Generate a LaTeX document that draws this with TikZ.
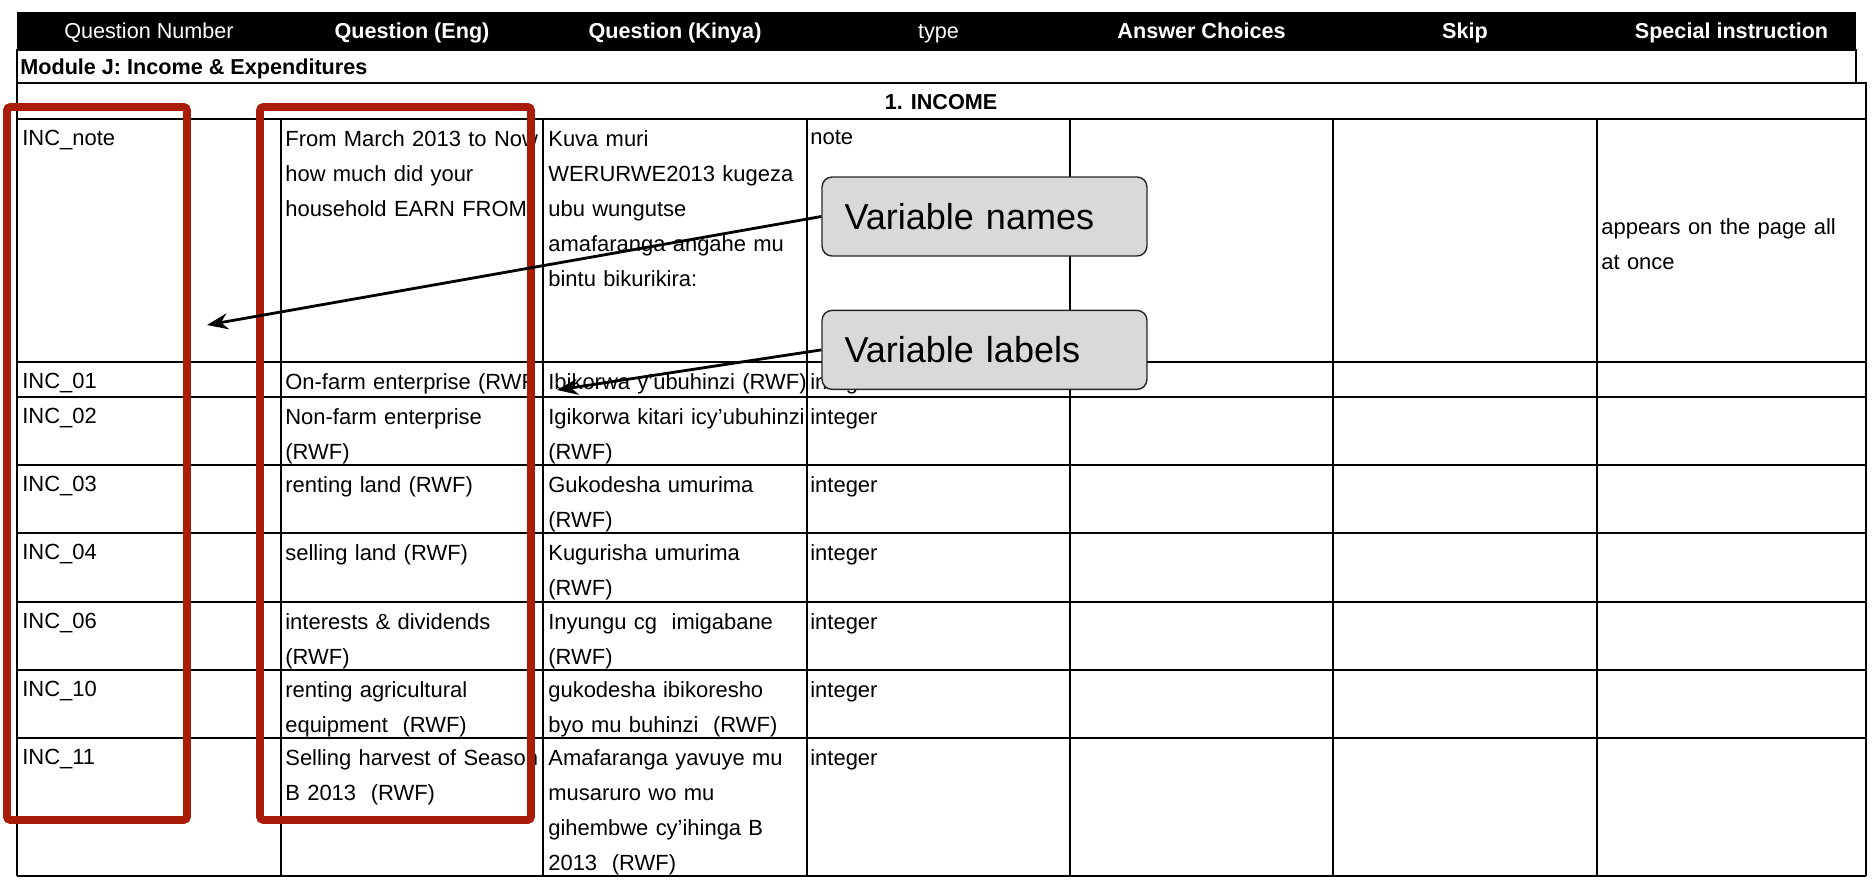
\documentclass[tikz,border=0pt]{standalone}
\usepackage{fontspec}
\setmainfont{Liberation Sans}
\usetikzlibrary{positioning, arrows.meta}
\definecolor{markred}{RGB}{168,28,8}
\definecolor{boxgray}{RGB}{217,217,217}
\tikzstyle{rule}=[draw=black, line width=1pt]
\tikzstyle{cell}=[anchor=north west, inner sep=0pt, text width=5.4cm, align=left, font=\fontsize{12.5}{19.9}\selectfont]
\tikzstyle{headcell}=[anchor=base, text=white, inner sep=0pt, font=\fontsize{12.3}{14}\selectfont]
\tikzstyle{marker}=[draw=markred, line width=4.5pt, rounded corners=2pt]
\tikzstyle{callout}=[rectangle, draw=black!85, line width=0.8pt, fill=boxgray, rounded corners=0.2cm, minimum width=6.5cm, minimum height=1.58cm, text width=5.6cm, align=left, inner xsep=0.45cm, font=\fontsize{20.5}{23}\selectfont]
\tikzstyle{pointer}=[line width=1.6pt, -{Stealth[length=0.42cm, width=0.32cm]}]

\begin{document}
\begin{tikzpicture}[x=0.02cm, y=-0.02cm]
    \useasboundingbox (0,0) rectangle (1875,894);
    %Header bar
    \fill[black] (17,12) rectangle (1856,50);
    \foreach \c/\xl/\xr/\txt in {1/17/281/Question Number, 2/281/543/\bfseries Question (Eng), 3/543/807/\bfseries Question (Kinya), 4/807/1070/type, 5/1070/1333/\bfseries Answer Choices, 6/1333/1597/\bfseries Skip, 7/1597/1866/\bfseries Special instruction}{
        \node[headcell] (head\c) at ({(\xl+\xr)/2},38) {\txt};
    }

    %Module and section rows
    \draw[rule] (17,50) rectangle (1856,83);
    \node[headcell, anchor=base west, text=black, font=\bfseries\fontsize{12.3}{14}\selectfont] (module) at (20,74) {Module J: Income \& Expenditures};
    \draw[rule] (17,83) rectangle (1866,119);
    \node[headcell, text=black, font=\bfseries\fontsize{12.3}{14}\selectfont] (income) at (941,109) {1. INCOME};

    %Grid of the question rows
    \foreach \y in {119,362,397,465,533,602,670,738,876}{
        \draw[rule] (17,\y) -- (1866,\y);
    }
    \foreach \x in {17,281,543,807,1070,1333,1597,1866}{
        \draw[rule] (\x,119) -- (\x,876);
    }

    %Question numbers
    \foreach \r/\t/\txt in {1/119/INC\_note, 2/362/INC\_01, 3/397/INC\_02, 4/465/INC\_03, 5/533/INC\_04, 6/602/INC\_06, 7/670/INC\_10, 8/738/INC\_11}{
        \node[cell] (num\r) at (22,\t+11) {\txt};
    }

    %English questions
    \foreach \r/\t/\txt in {1/119/{From March 2013 to Now\\how much did your\\household EARN FROM}, 2/362/{On-farm enterprise (RWF}, 3/397/{Non-farm enterprise\\(RWF)}, 4/465/{renting land (RWF)}, 5/533/{selling land (RWF)}, 6/602/{interests \& dividends\\(RWF)}, 7/670/{renting agricultural\\equipment~ (RWF)}, 8/738/{Selling harvest of Season\\B 2013~ (RWF)}}{
        \node[cell] (eng\r) at (285,\t+11) {\txt};
    }

    %Kinyarwanda questions
    \foreach \r/\t/\txt in {1/119/{Kuva muri\\WERURWE2013 kugeza\\ubu wungutse\\amafaranga angahe mu\\bintu bikurikira:}, 2/362/{Ibikorwa y’ubuhinzi (RWF)}, 3/397/{Igikorwa kitari icy’ubuhinzi\\(RWF)}, 4/465/{Gukodesha umurima\\(RWF)}, 5/533/{Kugurisha umurima\\(RWF)}, 6/602/{Inyungu cg~ imigabane\\(RWF)}, 7/670/{gukodesha ibikoresho\\byo mu buhinzi~ (RWF)}, 8/738/{Amafaranga yavuye mu\\musaruro wo mu\\gihembwe cy'ihinga B\\2013~ (RWF)}}{
        \node[cell] (kin\r) at (548,\t+11) {\txt};
    }

    %Types
    \node[cell] (type1) at (810,130) {note};
    \foreach \r/\t in {2/362, 3/397, 4/465, 5/533, 6/602, 7/670, 8/738}{
        \node[cell] (type\r) at (810,\t+11) {integer};
    }

    %Special instruction
    \node[cell, anchor=west] (spec1) at (1601,244) {appears on the page all\\at once};

    %Highlight frames
    \draw[marker] (7,107) rectangle (187,820);
    \draw[marker] (260,107) rectangle (531,820);

    %Callouts
    \coordinate (namestip) at (207,325);
    \coordinate (labelstip) at (557,390);
    \node[callout] (namesbox) at (984.5,216.5) {Variable names};
    \node[callout, below=1.06cm of namesbox] (labelsbox) {Variable labels};
    \draw[pointer] (namesbox.west) -- (namestip);
    \draw[pointer] (labelsbox.west) -- (labelstip);
\end{tikzpicture}
\end{document}
